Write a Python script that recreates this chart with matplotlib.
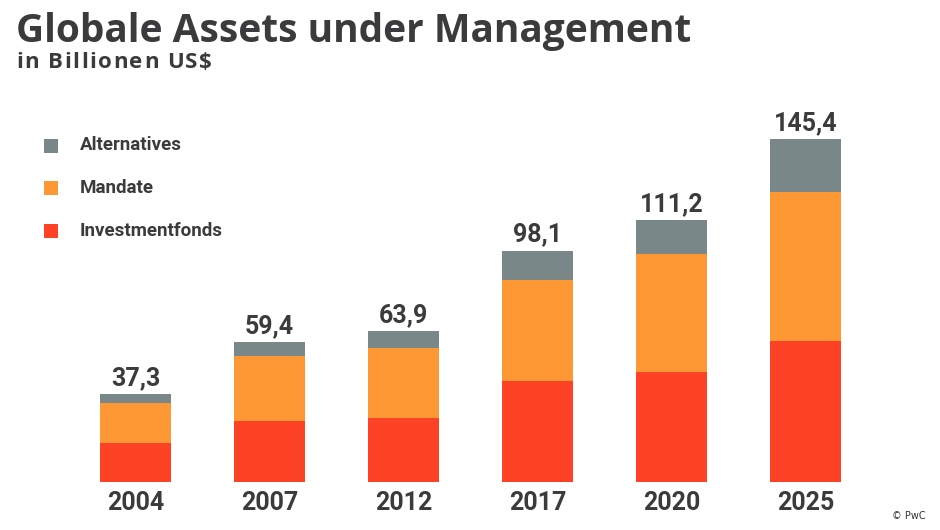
import matplotlib
matplotlib.use("Agg")
import matplotlib.pyplot as plt
from matplotlib.patches import Rectangle

years = ["2004", "2007", "2012", "2017", "2020", "2025"]
investmentfonds = [16.6, 25.9, 27.2, 42.9, 46.7, 59.7]
mandate = [17.0, 27.5, 29.5, 42.8, 49.9, 63.3]
alternatives = [3.7, 6.0, 7.2, 12.4, 14.6, 22.4]
totals = [37.3, 59.4, 63.9, 98.1, 111.2, 145.4]
total_labels = ["37,3", "59,4", "63,9", "98,1", "111,2", "145,4"]

series_names = ["Alternatives", "Mandate", "Investmentfonds"]
c_alt = "#798789"
c_man = "#fd9834"
c_inv = "#fe4226"
txt = "#3b3b3d"

W, H = 940, 530
fig = plt.figure(figsize=(W / 100, H / 100), dpi=100)
fig.patch.set_facecolor("white")
renderer = fig.canvas.get_renderer()


def tracked_text(x_px, y_px_top, s, track_px, **kw):
    """Draw text char by char with extra letter spacing (pixel coords from top-left)."""
    x = x_px
    for ch in s:
        if ch == " ":
            a = fig.text(0, 0, "nn", **kw)
            b = fig.text(0, 0, "n n", **kw)
            w = b.get_window_extent(renderer).width - a.get_window_extent(renderer).width
            a.remove()
            b.remove()
        else:
            t = fig.text(x / W, 1 - y_px_top / H, ch, ha="left", va="baseline", **kw)
            w = t.get_window_extent(renderer).width
        x += w + track_px
    return x


base_px = 481.7
ax = fig.add_axes([0, (H - base_px) / H, 1, base_px / H])
px_per_unit = 2.355
ax.set_ylim(0, base_px / px_per_unit)
x0 = -135.5 / 134
ax.set_xlim(x0, x0 + W / 134)

xs = list(range(len(years)))
bw = 71 / 134
ax.bar(xs, investmentfonds, width=bw, color=c_inv, linewidth=0)
bottom2 = [a for a in investmentfonds]
ax.bar(xs, mandate, width=bw, bottom=bottom2, color=c_man, linewidth=0)
bottom3 = [a + b for a, b in zip(investmentfonds, mandate)]
ax.bar(xs, alternatives, width=bw, bottom=bottom3, color=c_alt, linewidth=0)

for x, b, a, lab in zip(xs, bottom3, alternatives, total_labels):
    ax.annotate(lab, (x, b + a), xytext=(0, 9), textcoords="offset pixels",
                ha="center", va="baseline", fontsize=18, fontweight="bold",
                family="Roboto", color=txt)

ax.set_xticks(xs)
ax.set_xticklabels(years, fontsize=18, fontweight="bold", family="Roboto", color=txt)
ax.tick_params(axis="x", length=0, pad=7)
ax.set_yticks([])
for s in ax.spines.values():
    s.set_visible(False)

# Title
fig.text(16 / W, 1 - 41.7 / H, "Globale Assets under Management", fontsize=28,
         fontweight="bold", family="Open Sans", color=txt, va="baseline", ha="left")
tracked_text(16, 68.3, "in Billionen US$", 1.5, fontsize=16,
             fontweight="bold", family="Open Sans", color=txt)

# Legend
leg_colors = [c_alt, c_man, c_inv]
leg_y = [145.5, 188.3, 230.5]
for name, col, yc in zip(series_names, leg_colors, leg_y):
    fig.patches.append(Rectangle((44 / W, 1 - (yc + 7) / H), 14 / W, 14 / H,
                                 transform=fig.transFigure, color=col, linewidth=0))
    fig.text(80 / W, 1 - yc / H, name, fontsize=13.5, fontweight="bold",
             family="Roboto", color=txt, va="center", ha="left")

fig.text(926 / W, 1 - 516 / H, "© PwC", fontsize=7, color="#333333",
         ha="right", va="center", family="DejaVu Sans")

fig.savefig("out.png", dpi=100, facecolor="white")
